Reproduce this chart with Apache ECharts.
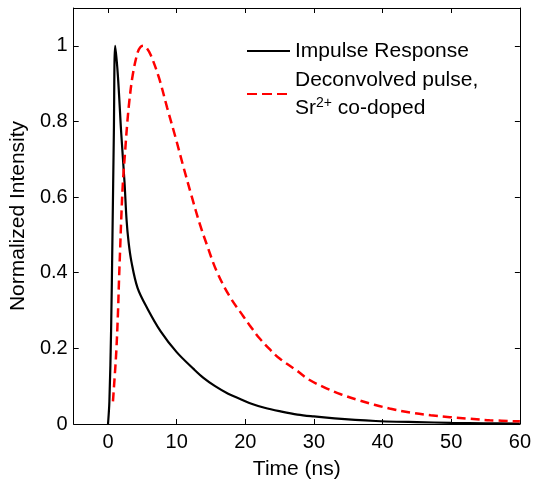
<!DOCTYPE html>
<html>
<head>
<meta charset="utf-8">
<script src="https://cdn.jsdelivr.net/npm/echarts@6/dist/echarts.min.js"></script>
<style>html,body{margin:0;padding:0;background:#fff}#c{width:534px;height:485px}</style>
</head>
<body>
<div id="c"></div>
<script>
var xTicks = [0, 10, 20, 30, 40, 50, 60];
var yTicks = [0, 0.2, 0.4, 0.6, 0.8, 1];
var impulseX = [0, 0.2, 0.45, 0.65, 0.85, 1.05, 1.44, 1.92, 2.4, 2.7, 3.0, 3.4, 4.3, 5.75, 7.67, 10.0, 12.5, 13.9, 15.6, 17.5, 19.4, 21, 22.8, 25, 27.6, 30, 33, 36, 39, 42, 45, 50, 55, 60];
var impulseY = [0, 0.06, 0.25, 0.5, 0.77, 1.0, 0.92, 0.77, 0.64, 0.54, 0.48, 0.43, 0.36, 0.305, 0.245, 0.19, 0.145, 0.122, 0.1, 0.08, 0.065, 0.053, 0.043, 0.034, 0.025, 0.02, 0.015, 0.011, 0.008, 0.006, 0.005, 0.003, 0.002, 0.001];
var pulseX = [0.72, 0.95, 1.2, 1.44, 1.6, 1.78, 1.92, 2.16, 2.5, 2.79, 3.1, 3.6, 4.3, 4.7, 5.1, 5.6, 6.24, 7.43, 8.62, 9.83, 11.0, 12.2, 13.4, 14.4, 15.8, 17.7, 19.7, 20.6, 22, 23.7, 25, 27.6, 29.2, 31.5, 34, 36.5, 38.8, 41, 44.1, 47, 49.8, 52.7, 55.6, 60];
var pulseY = [0.06, 0.12, 0.19, 0.29, 0.38, 0.47, 0.54, 0.636, 0.723, 0.793, 0.853, 0.923, 0.982, 0.996, 1.0, 0.995, 0.975, 0.915, 0.836, 0.758, 0.679, 0.601, 0.527, 0.474, 0.405, 0.338, 0.285, 0.262, 0.228, 0.195, 0.173, 0.14, 0.118, 0.097, 0.078, 0.063, 0.051, 0.041, 0.03, 0.023, 0.018, 0.014, 0.01, 0.007];

function pairs(xs, ys) { return xs.map(function (x, i) { return [x, ys[i]]; }); }
var font = 'Arial, "Liberation Sans", sans-serif';

var chart = echarts.init(document.getElementById('c'), null, {renderer: 'canvas'});
var axisCommon = {
  axisLine: {show: true, onZero: false, lineStyle: {color: '#000', width: 1}},
  splitLine: {show: false}
};
chart.setOption({
  backgroundColor: '#fff',
  animation: false,
  grid: {left: 69, right: 14, top: 8, bottom: 57},
  legend: {
    orient: 'vertical',
    left: 247,
    top: 37,
    padding: 0,
    itemWidth: 43,
    itemHeight: 2,
    itemGap: 1,
    textStyle: {
      fontFamily: font, fontSize: 21, color: '#000', lineHeight: 28,
      rich: {
        n: {fontFamily: font, fontSize: 21, color: '#000', lineHeight: 28},
        sup: {fontFamily: font, fontSize: 14, color: '#000', padding: [0, 0, 10, 0], lineHeight: 28}
      }
    },
    formatter: function (name) {
      if (name === 'pulse') return '{n|Deconvolved pulse,}\n{n|Sr}{sup|2+}{n| co-doped}';
      return '{n|Impulse Response}';
    },
    data: [
      {name: 'impulse', icon: 'path://M0,0h43v2h-43z'},
      {name: 'pulse', icon: 'path://M0,0h10v2h-10z M15,0h10v2h-10z M30,0h10v2h-10z M43,0h0v2h0z'}
    ]
  },
  xAxis: [
    Object.assign({
      type: 'value', min: -5, max: 60, position: 'bottom',
      name: 'Time (ns)', nameLocation: 'middle', nameGap: 35,
      nameTextStyle: {fontFamily: font, fontSize: 21, color: '#000'},
      axisTick: {show: true, inside: true, length: 5, lineStyle: {color: '#000'}, customValues: xTicks},
      axisLabel: {show: true, fontFamily: font, fontSize: 20, color: '#000', margin: 8, customValues: xTicks}
    }, axisCommon),
    Object.assign({
      type: 'value', min: -5, max: 60, position: 'top',
      axisTick: {show: true, inside: true, length: 5, lineStyle: {color: '#000'}, customValues: xTicks},
      axisLabel: {show: false, customValues: xTicks}
    }, axisCommon)
  ],
  yAxis: [
    Object.assign({
      type: 'value', min: 0, max: 1.1, interval: 0.2, position: 'left',
      name: 'Normalized Intensity', nameLocation: 'middle', nameGap: 43,
      nameTextStyle: {fontFamily: font, fontSize: 21, color: '#000'},
      axisTick: {show: true, inside: true, length: 5, lineStyle: {color: '#000'}, customValues: yTicks},
      axisLabel: {show: true, fontFamily: font, fontSize: 20, color: '#000', margin: 6, customValues: yTicks,
        formatter: function (v) { return String(Math.round(v * 10) / 10); }}
    }, axisCommon),
    Object.assign({
      type: 'value', min: 0, max: 1.1, position: 'right',
      axisTick: {show: true, inside: true, length: 5, lineStyle: {color: '#000'}, customValues: yTicks},
      axisLabel: {show: false, customValues: yTicks}
    }, axisCommon)
  ],
  series: [
    {
      name: 'impulse', type: 'line', xAxisIndex: 0, yAxisIndex: 0,
      data: pairs(impulseX, impulseY), showSymbol: false, symbol: 'none', smooth: 0.35,
      lineStyle: {color: '#000', width: 2.2}, itemStyle: {color: '#000'}
    },
    {
      name: 'pulse', type: 'line', xAxisIndex: 0, yAxisIndex: 0,
      data: pairs(pulseX, pulseY), showSymbol: false, symbol: 'none', smooth: 0.35,
      lineStyle: {color: '#ff0000', width: 2.5, type: [9, 5]}, itemStyle: {color: '#ff0000'}
    }
  ]
});
</script>
</body>
</html>
